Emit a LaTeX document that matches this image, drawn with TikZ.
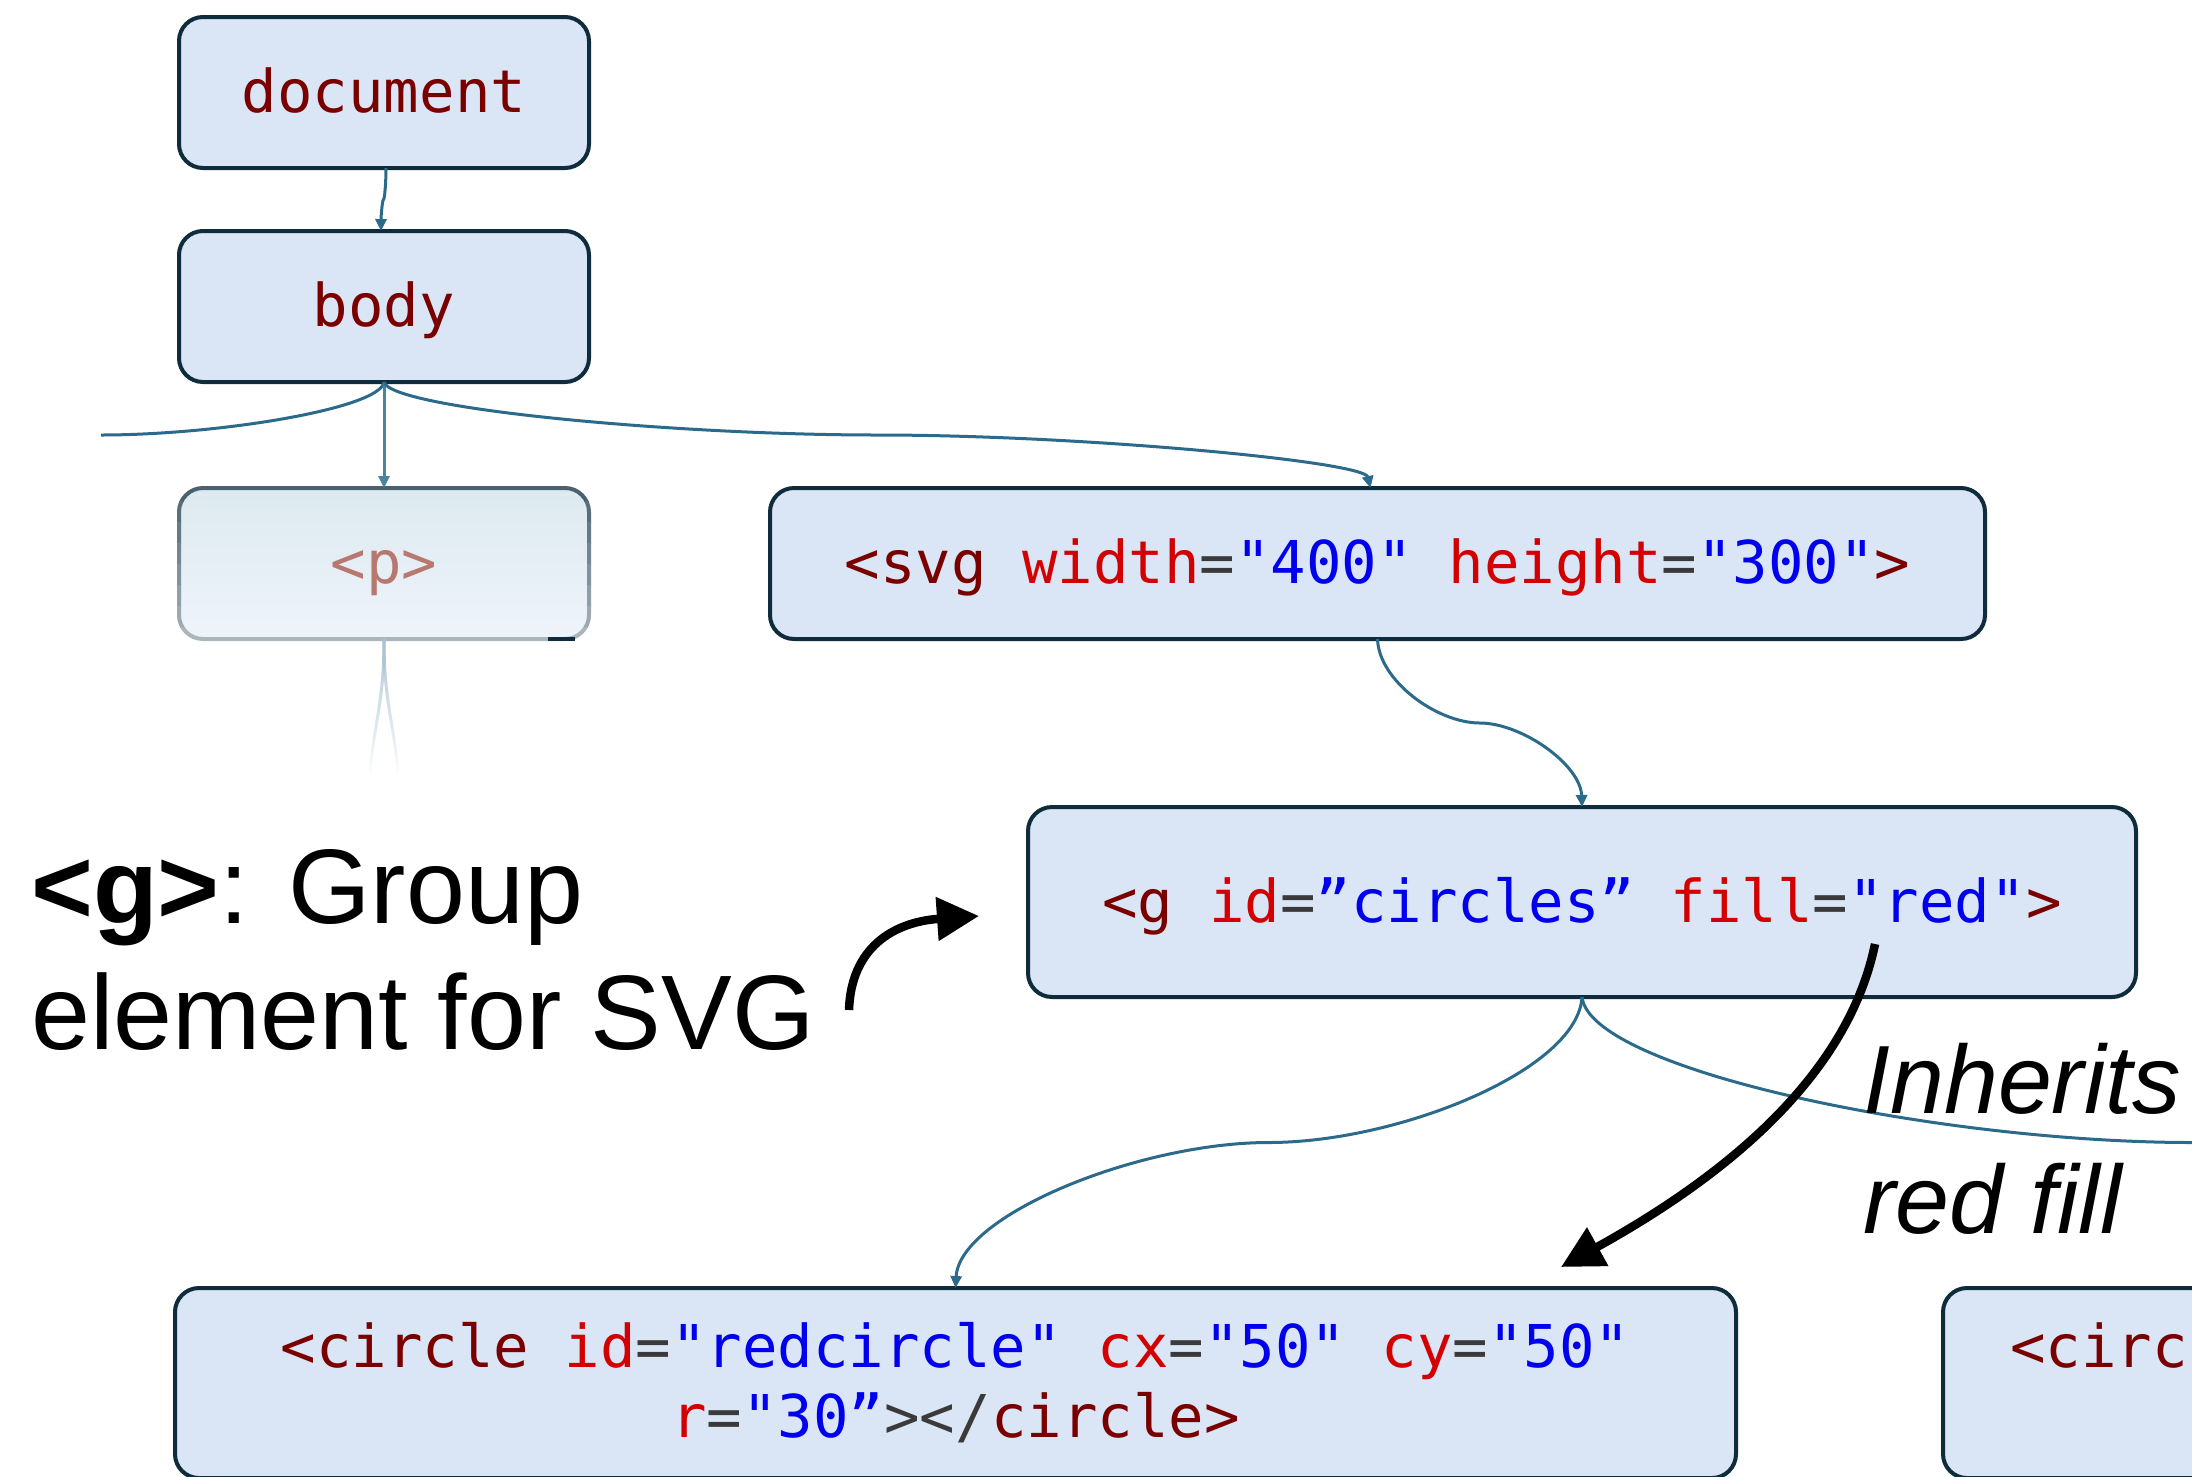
\documentclass[tikz,border=0pt]{standalone}
\usepackage{fontspec}
\setmainfont{Liberation Sans}
\newfontfamily\codefont[Ligatures=TeXOff]{DejaVu Sans Mono}
\usetikzlibrary{arrows.meta,fadings,calc}

% palette
\definecolor{boxfill}{HTML}{DAE5F5}
\definecolor{boxline}{HTML}{0E2C3C}
\definecolor{linkc}{HTML}{2B6A8A}
\definecolor{linkp}{HTML}{4A84A0}
\definecolor{faintc}{HTML}{A9C3D2}
\definecolor{tagc}{HTML}{7A0000}
\definecolor{attrc}{HTML}{D20000}
\definecolor{valc}{HTML}{0000EE}
\definecolor{eqc}{HTML}{3A3A3A}
\definecolor{pfilltop}{HTML}{DDE9F0}
\definecolor{pfillbot}{HTML}{EFF4FB}
\definecolor{plinetop}{HTML}{4A6270}
\definecolor{plinebot}{HTML}{AAB5BC}
\definecolor{ptext}{HTML}{B6786F}

% syntax colouring for the markup
\newcommand\ctag[1]{\textcolor{tagc}{#1}}
\newcommand\cattr[1]{\textcolor{attrc}{#1}}
\newcommand\cval[1]{\textcolor{valc}{#1}}
\newcommand\ceq{\textcolor{eqc}{=}}

\begin{document}
\begin{tikzpicture}[x=1pt,y=-1pt,
  treebox/.style={draw=boxline, line width=4pt, fill=boxfill,
    rounded corners=24pt, inner sep=0pt, outer sep=0pt,
    font=\codefont\fontsize{59}{70}\selectfont,
    text height=47pt, text depth=7pt},
  codeline/.style={inner sep=0pt, font=\codefont\fontsize{59}{70}\selectfont},
  link/.style={draw=linkc, line width=3pt, -{Triangle[length=12pt,width=11pt]}},
  % tree link: two mirrored halves meeting level at the midpoint
  treelink/.style={to path={
    let \p1=(\tikztostart), \p2=(\tikztotarget) in
    .. controls ({\x1+0.0064*(\x2-\x1)},{\y1+0.25*(\y2-\y1)})
            and ({\x1+0.2925*(\x2-\x1)},{\y1+0.5*(\y2-\y1)})
    .. ({\x1+0.5*(\x2-\x1)},{\y1+0.5*(\y2-\y1)})
    .. controls ({\x1+0.7075*(\x2-\x1)},{\y1+0.5*(\y2-\y1)})
            and ({\x2-0.0064*(\x2-\x1)},{\y2-0.25*(\y2-\y1)})
    .. (\tikztotarget)}},
  faint/.style={draw=faintc, line width=3pt},
  callout/.style={draw=black, line width=8.5pt, -{Triangle[length=42pt,width=42pt]}},
  note/.style={inner sep=0pt, anchor=base west, text=black}
]
\useasboundingbox (0,0) rectangle (2192,1476);
\clip (0,0) rectangle (2192,1476);

% ---- tree nodes ----
\node[treebox, minimum width=410pt, minimum height=151pt] (doc) at (384,92.5) {\ctag{document}};
\node[treebox, minimum width=410pt, minimum height=151pt] (body) at (384,306.5) {\ctag{body}};

% faded paragraph node: shaded fill, border darkening toward the top
\node[treebox, draw=none, top color=pfilltop, bottom color=pfillbot, text=ptext,
      minimum width=410pt, minimum height=151pt] (p) at (384,563.5) {<p>};
\foreach \k in {0,...,7} {
  \pgfmathsetmacro\ya{480+\k*21}
  \pgfmathsetmacro\yb{\ya+21}
  \pgfmathtruncatemacro\mixv{100-\k*100/7}
  \begin{scope}
    \clip (160,\ya) rectangle (610,\yb);
    \draw[draw=plinetop!\mixv!plinebot, line width=4pt, rounded corners=24pt]
      (179,488) rectangle (589,639);
  \end{scope}
}
\draw[boxline, line width=4pt] (548,639) -- (575,639);

\node[treebox, minimum width=1215pt, minimum height=151pt] (svg) at (1377.5,563.5)
  {\ctag{<svg} \cattr{width}\ceq\cval{"400"} \cattr{height}\ceq\cval{"300"}\ctag{>}};

\node[treebox, minimum width=1108pt, minimum height=190pt] (g) at (1582,902)
  {\ctag{<g} \cattr{id}\ceq\cval{”circles”} \cattr{fill}\ceq\cval{"red"}\ctag{>}};

\node[treebox, minimum width=1561pt, minimum height=190pt] (circ) at (955.5,1383) {};
\node[codeline, anchor=base] (circa) at (955.5,1367)
  {\ctag{<circle} \cattr{id}\ceq\cval{"redcircle"} \cattr{cx}\ceq\cval{"50"} \cattr{cy}\ceq\cval{"50"}};
\node[codeline, anchor=base] (circb) at (955.5,1437)
  {\cattr{r}\ceq\cval{"30”}\textcolor{eqc}{></}\ctag{circle>}};

\node[treebox, minimum width=1718pt, minimum height=190pt] (circtwo) at (2802,1383) {};
\node[codeline, anchor=base west] (circtwoa) at (2010,1367) {\ctag{<circ}};

% ---- tree links ----
\coordinate (leftcut) at (101,435);
\draw[link, treelink] ([xshift=2pt]doc.south) to ([xshift=-3pt]body.north);
\draw[link, -] (body.south) .. controls (380.4,408.5) and (218.4,435) .. (leftcut);
\draw[link, draw=linkp] (body.south) -- (p.north);
\draw[link, treelink] (body.south) to ([xshift=-7pt]svg.north);
\draw[link, treelink] (svg.south) to (g.north);
\draw[link, treelink] (g.south) to (circ.north);
\draw[link, treelink] (g.south) to (circtwo.north);

% links under the paragraph node fading away
\coordinate (pfadeL) at (370,775);
\coordinate (pfadeR) at (398,775);
\draw[faint, path fading=south] (p.south) .. controls (384,705) and (374,720) .. (pfadeL);
\draw[faint, path fading=south] (p.south) .. controls (384,705) and (394,720) .. (pfadeR);

% ---- annotations ----
\node[note, font=\fontsize{106}{126}\selectfont] (grouptitle) at (31,923) {\textbf{<g>}: Group};
\node[note, font=\fontsize{106}{126}\selectfont] (groupdesc) at (31,1049) {element for SVG};
\node[note, font=\itshape\fontsize{97}{120}\selectfont] (inhA) at (1863,1113) {Inherits};
\node[note, font=\itshape\fontsize{97}{120}\selectfont] (inhB) at (1863,1233) {red fill};

\coordinate (oneS) at (849,1010);
\coordinate (oneE) at (979,916);
\draw[callout] (oneS) .. controls (851,948) and (893,922) .. (oneE);

\coordinate (twoS) at (1875,944);
\coordinate (twoE) at (1561,1267);
\draw[callout] (twoS) .. controls (1845,1090) and (1700,1190) .. (twoE);
\end{tikzpicture}
\end{document}
